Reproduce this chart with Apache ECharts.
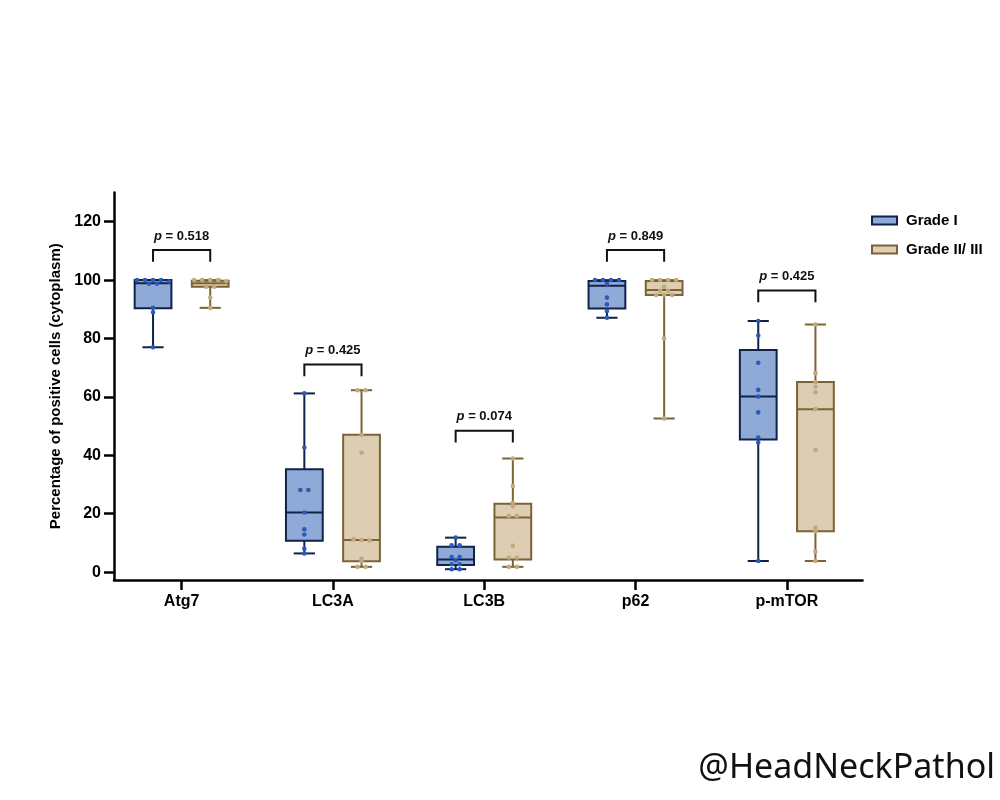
<!DOCTYPE html>
<html><head><meta charset="utf-8">
<script src="https://cdn.jsdelivr.net/npm/echarts@6/dist/echarts.min.js"></script>
<style>html,body{margin:0;padding:0;background:#fff}#c{width:1000px;height:800px}</style>
</head><body><div id="c"></div>
<script>
const categories = ['Atg7', 'LC3A', 'LC3B', 'p62', 'p-mTOR'];
const seriesNames = ['Grade I', 'Grade II/ III'];
const yTicks = [0, 20, 40, 60, 80, 100, 120];
// box stats per category: [min, q1, median, q3, max]
const grade1Box = [
  [77.0, 90.4, 98.9, 100.0, 100.0],
  [6.4, 10.7, 20.4, 35.2, 61.2],
  [1.0, 2.4, 4.3, 8.7, 11.8],
  [87.1, 90.3, 98.1, 99.7, 100.0],
  [3.8, 45.4, 60.1, 76.1, 86.0]
];
const grade23Box = [
  [90.5, 97.7, 98.9, 99.8, 100.0],
  [1.8, 3.7, 11.0, 47.0, 62.3],
  [1.8, 4.3, 18.7, 23.4, 38.9],
  [52.6, 94.9, 96.6, 99.7, 100.0],
  [3.8, 14.0, 55.8, 65.1, 84.8]
];
// individual observations
const grade1Points = [
  [100, 100, 100, 100, 99.5, 98.8, 98.8, 90.5, 89.0, 77.0],
  [61.2, 42.7, 28.1, 28.1, 20.4, 14.7, 12.9, 8.0, 6.4],
  [11.8, 9.2, 9.2, 5.2, 5.2, 4.1, 2.7, 2.7, 1.0, 1.0],
  [100, 100, 100, 100, 98.7, 94.0, 91.7, 89.4, 87.1],
  [86.0, 81.0, 71.7, 62.4, 60.1, 54.7, 46.1, 44.4, 3.8]
];
const grade23Points = [
  [100, 100, 100, 100, 99.6, 97.7, 97.7, 94.0, 90.5],
  [62.3, 62.3, 47.0, 40.9, 11.2, 11.0, 10.8, 4.6, 3.7, 1.8, 1.8],
  [38.9, 29.5, 23.7, 22.6, 19.2, 19.2, 9.0, 5.0, 5.0, 1.8, 1.8],
  [100, 100, 100, 100, 97.7, 96.3, 96.3, 94.9, 94.9, 94.9, 80.0, 52.6],
  [84.8, 68.1, 65.1, 63.5, 61.6, 55.8, 41.8, 15.2, 14.0, 7.0, 3.8]
];
const pValues = ['0.518', '0.425', '0.074', '0.849', '0.425'];
const bracketLevels = [110.3, 71.1, 48.4, 110.3, 96.4];

const FONT = '"Liberation Sans", Arial, sans-serif';
const BLUE_FILL = '#8FAAD6', BLUE_STROKE = '#10214A', BLUE_DOT = '#2A5BB8';
const TAN_FILL = '#DDCDB3', TAN_STROKE = '#7B6336', TAN_DOT = '#C2A97A';
const OFF = 0.189;

function swarm(points, ci) {
  const out = [];
  const s = points.slice().sort((a, b) => b - a);
  let i = 0;
  while (i < s.length) {
    let j = i + 1;
    while (j < s.length && s[i] - s[j] < 0.8) j++;
    const k = j - i;
    for (let m = i; m < j; m++) out.push([ci, s[m], (m - i) - (k - 1) / 2]);
    i = j;
  }
  return out;
}

function boxRender(off, fill, stroke) {
  return function (params, api) {
    const ci = api.value(0);
    const band = api.size([1, 0])[0];
    const cx = api.coord([ci, 0])[0] + off * band;
    const y = [1, 2, 3, 4, 5].map(d => api.coord([ci, api.value(d)])[1]);
    const bw = band * 0.243, cw = band * 0.14;
    const ls = { stroke: stroke, lineWidth: 2 };
    return { type: 'group', children: [
      { type: 'line', shape: { x1: cx, y1: y[0], x2: cx, y2: y[1] }, style: ls },
      { type: 'line', shape: { x1: cx, y1: y[3], x2: cx, y2: y[4] }, style: ls },
      { type: 'line', shape: { x1: cx - cw / 2, y1: y[0], x2: cx + cw / 2, y2: y[0] }, style: ls },
      { type: 'line', shape: { x1: cx - cw / 2, y1: y[4], x2: cx + cw / 2, y2: y[4] }, style: ls },
      { type: 'rect', shape: { x: cx - bw / 2, y: y[3], width: bw, height: y[1] - y[3] }, style: { fill: fill, stroke: stroke, lineWidth: 2 } },
      { type: 'line', shape: { x1: cx - bw / 2, y1: y[2], x2: cx + bw / 2, y2: y[2] }, style: ls }
    ]};
  };
}
function pointRender(off, color) {
  return function (params, api) {
    const band = api.size([1, 0])[0];
    const p = api.coord([api.value(0), api.value(1)]);
    return { type: 'circle', shape: { cx: p[0] + off * band + api.value(2) * 8, cy: p[1], r: 2.3 }, style: { fill: color } };
  };
}
function bracketRender(params, api) {
  const ci = api.value(0), lv = api.value(1);
  const band = api.size([1, 0])[0];
  const c = api.coord([ci, lv]);
  const yl = api.coord([ci, lv - 4])[1];
  const x1 = c[0] - OFF * band, x2 = c[0] + OFF * band;
  return { type: 'group', children: [
    { type: 'polyline', shape: { points: [[x1, yl], [x1, c[1]], [x2, c[1]], [x2, yl]] }, style: { stroke: '#111', lineWidth: 2, fill: null } },
    { type: 'text', style: { x: c[0], y: c[1] - 14, text: '{i|p} = ' + pValues[params.dataIndex], align: 'center', verticalAlign: 'middle', fill: '#111', font: 'bold 13px ' + FONT,
      rich: { i: { fontStyle: 'italic', fontWeight: 'bold', fontSize: 13, fontFamily: FONT, fill: '#111' } } } }
  ]};
}

const chart = echarts.init(document.getElementById('c'));
chart.setOption({
  backgroundColor: '#fff',
  animation: false,
  grid: { left: 114, top: 192.5, width: 748.5, height: 387.5, containLabel: false },
  xAxis: {
    type: 'value', min: -0.447, max: 4.5,
    axisLine: { onZero: false, lineStyle: { color: '#000', width: 2.5 } },
    axisTick: { customValues: [0, 1, 2, 3, 4], length: 10, lineStyle: { color: '#000', width: 2.5 } },
    axisLabel: { customValues: [0, 1, 2, 3, 4], formatter: v => categories[Math.round(v)], margin: 14, color: '#000', fontWeight: 'bold', fontSize: 16, fontFamily: FONT },
    splitLine: { show: false }
  },
  yAxis: {
    type: 'value', min: -2.7, max: 130,
    name: 'Percentage of positive cells (cytoplasm)', nameLocation: 'middle', nameGap: 46,
    nameTextStyle: { color: '#000', fontWeight: 'bold', fontSize: 15, fontFamily: FONT },
    axisLine: { show: true, onZero: false, lineStyle: { color: '#000', width: 2.5 } },
    axisTick: { show: true, customValues: yTicks, length: 10, lineStyle: { color: '#000', width: 2.5 } },
    axisLabel: { customValues: yTicks, margin: 13, color: '#000', fontWeight: 'bold', fontSize: 16, fontFamily: FONT },
    splitLine: { show: false }
  },
  legend: {
    orient: 'vertical', left: 866, top: 208, itemWidth: 25, itemHeight: 8, itemGap: 14, selectedMode: false,
    textStyle: { color: '#000', fontWeight: 'bold', fontSize: 15, fontFamily: FONT, padding: [0, 0, 0, 4] },
    data: [
      { name: seriesNames[0], icon: 'rect', itemStyle: { color: BLUE_FILL, borderColor: BLUE_STROKE, borderWidth: 2 } },
      { name: seriesNames[1], icon: 'rect', itemStyle: { color: TAN_FILL, borderColor: TAN_STROKE, borderWidth: 2 } }
    ]
  },
  graphic: [
    { type: 'text', x: 995, y: 768, style: { text: '@HeadNeckPathol', align: 'right', verticalAlign: 'middle', font: '34px "Noto Sans", "Open Sans", sans-serif', fill: '#111' } }
  ],
  series: [
    { type: 'custom', name: seriesNames[0], renderItem: boxRender(-OFF, BLUE_FILL, BLUE_STROKE), encode: { x: 0, y: [1, 2, 3, 4, 5] },
      itemStyle: { color: BLUE_FILL }, data: grade1Box.map((b, i) => [i].concat(b)), z: 2 },
    { type: 'custom', name: seriesNames[1], renderItem: boxRender(OFF, TAN_FILL, TAN_STROKE), encode: { x: 0, y: [1, 2, 3, 4, 5] },
      itemStyle: { color: TAN_FILL }, data: grade23Box.map((b, i) => [i].concat(b)), z: 2 },
    { type: 'custom', name: seriesNames[0], renderItem: pointRender(-OFF, BLUE_DOT), encode: { x: 0, y: 1 },
      data: grade1Points.flatMap((p, i) => swarm(p, i)), z: 3 },
    { type: 'custom', name: seriesNames[1], renderItem: pointRender(OFF, TAN_DOT), encode: { x: 0, y: 1 },
      data: grade23Points.flatMap((p, i) => swarm(p, i)), z: 3 },
    { type: 'custom', name: 'brackets', renderItem: bracketRender, encode: { x: 0, y: 1 },
      data: bracketLevels.map((v, i) => [i, v]), z: 4 }
  ]
});
</script></body></html>
